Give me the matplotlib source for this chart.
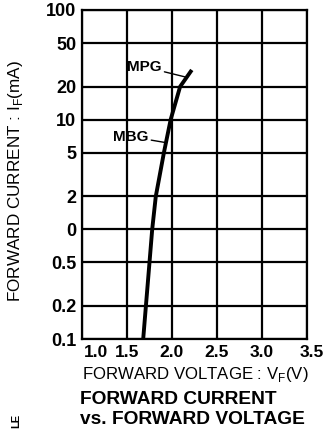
import matplotlib
matplotlib.use("Agg")
import matplotlib.pyplot as plt
from matplotlib.transforms import ScaledTranslation

# Data
vf = [1.68, 1.71, 1.75, 1.78, 1.82, 1.86, 1.91, 1.985, 2.09, 2.22]
i_f = [0.1, 0.2, 0.5, 1, 2, 3, 5, 10, 20, 28.4]
x_ticks = [1.0, 1.5, 2.0, 2.5, 3.0, 3.5]
x_labels = ["1.0", "1.5", "2.0", "2.5", "3.0", "3.5"]
y_ticks = [0.1, 0.2, 0.5, 1, 2, 5, 10, 20, 50, 100]
y_labels = ["0.1", "0.2", "0.5", "0", "2", "5", "10", "20", "50", "100"]

plt.rcParams['font.family'] = ['Liberation Sans', 'DejaVu Sans']

W, H = 326, 434
fig = plt.figure(figsize=(W / 100, H / 100), dpi=100)
ax = fig.add_axes([82 / W, 1 - 339 / H, (307 - 82) / W, (339 - 10) / H])

ax.set_yscale('log')
ax.set_xlim(1.0, 3.5)
ax.set_ylim(0.1, 100)
ax.set_xticks(x_ticks)
ax.set_xticklabels(x_labels, fontsize=12.5)
ax.set_yticks(y_ticks)
ax.set_yticklabels(y_labels, fontsize=13, fontweight='bold')
ax.minorticks_off()
ax.tick_params(axis='y', length=0, pad=4)
ax.tick_params(axis='x', length=0, pad=4)
xl = ax.get_xticklabels()
for lbl in xl:
    lbl.set_fontweight('bold')
xl[0].set_horizontalalignment('left')
xl[0].set_transform(xl[0].get_transform() + ScaledTranslation(0.02, 0, fig.dpi_scale_trans))
xl[-1].set_transform(xl[-1].get_transform() + ScaledTranslation(0.05, 0, fig.dpi_scale_trans))
ax.grid(True, color='black', linewidth=1.6)
for s in ax.spines.values():
    s.set_linewidth(1.6)

ax.plot(vf, i_f, color='black', linewidth=2.8, solid_capstyle='butt')

ax.annotate("MPG", xy=(2.14, 24.6), xytext=(1.5, 30.3), fontsize=11, fontweight='bold',
            ha='left', va='center',
            arrowprops=dict(arrowstyle='-', color='black', lw=1.0, shrinkA=0, shrinkB=0))
ax.annotate("MBG", xy=(1.92, 6.2), xytext=(1.344, 7.0), fontsize=11, fontweight='bold',
            ha='left', va='center',
            arrowprops=dict(arrowstyle='-', color='black', lw=1.0, shrinkA=0, shrinkB=0))

fig.text(16 / W, 1 - 181 / H, "FORWARD CURRENT : I$_\\mathregular{F}$(mA)", rotation=90,
         ha='center', va='center', fontsize=12.3)
fig.text(195 / W, 1 - 374 / H, "FORWARD VOLTAGE : V$_\\mathregular{F}$(V)",
         ha='center', va='center', fontsize=12.1)
fig.text(80 / W, 1 - 399 / H, "FORWARD CURRENT", ha='left', va='center',
         fontsize=13.8, fontweight='bold')
fig.text(80 / W, 1 - 419 / H, "vs. FORWARD VOLTAGE", ha='left', va='center',
         fontsize=13.8, fontweight='bold')
fig.text(16 / W, 1 - 421 / H, "LE", rotation=90, ha='center', va='center',
         fontsize=8, fontweight='bold')

fig.savefig("out.png", dpi=100)
